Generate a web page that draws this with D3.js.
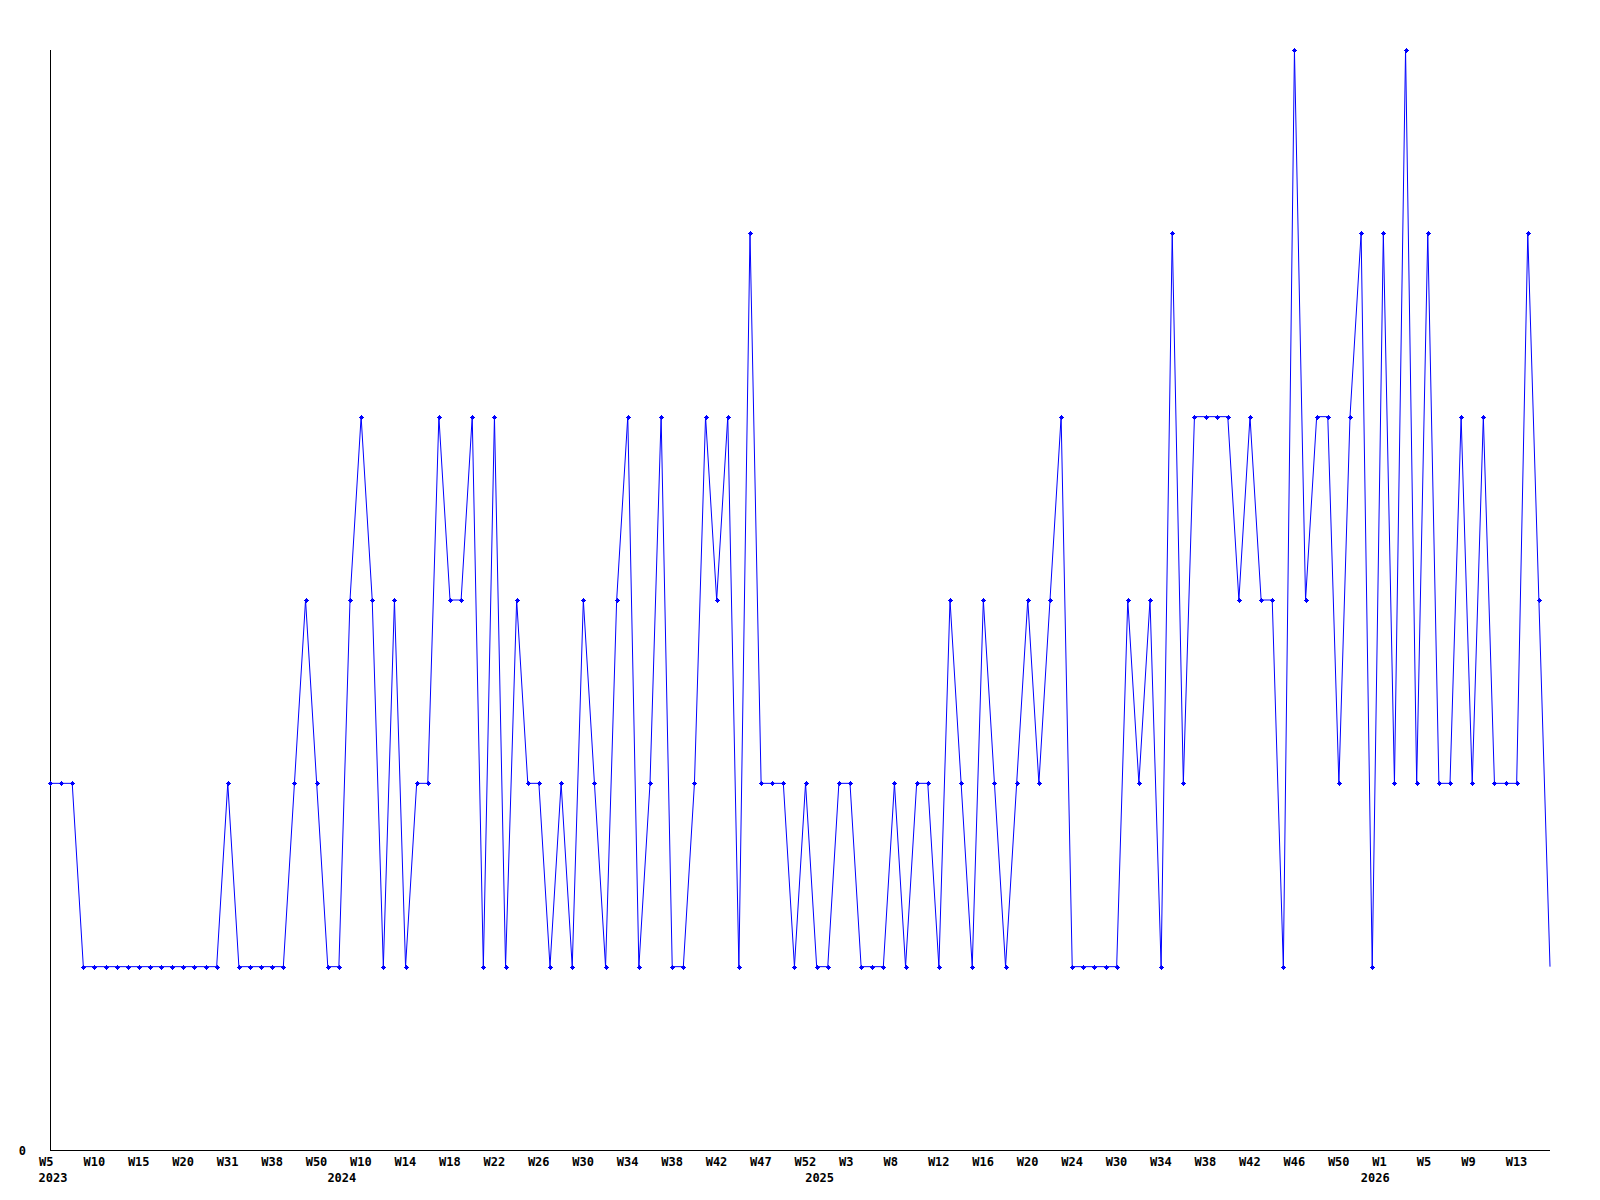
<!DOCTYPE html>
<html>
<head>
<meta charset="utf-8">
<script src="https://cdn.jsdelivr.net/npm/d3@7"></script>
<style>
  html, body { margin: 0; padding: 0; background: #fff; }
  svg { display: block; }
  .tick text, .lbl { font-family: "DejaVu Sans Mono", monospace; font-weight: bold; font-size: 12px; fill: #000; }
</style>
</head>
<body>
<svg id="chart" width="1600" height="1200"></svg>
<script>
// ---- data ----
const values = [
  2,2,2,1,1,1,1,1,1,1,
  1,1,1,1,1,1,2,1,1,1,
  1,1,2,3,2,1,1,3,4,3,
  1,3,1,2,2,4,3,3,4,1,
  4,1,3,2,2,1,2,1,3,2,
  1,3,4,1,2,4,1,1,2,4,
  3,4,1,5,2,2,2,1,2,1,
  1,2,2,1,1,1,2,1,2,2,
  1,3,2,1,3,2,1,2,3,2,
  3,4,1,1,1,1,1,3,2,3,
  1,5,2,4,4,4,4,3,4,3,
  3,1,6,3,4,4,2,4,5,1,
  5,2,6,2,5,2,2,4,2,4,
  2,2,2,5,3,1
];
const tickLabels = [
  "W5","W10","W15","W20","W31","W38","W50",
  "W10","W14","W18","W22","W26","W30","W34","W38","W42","W47","W52",
  "W3","W8","W12","W16","W20","W24","W30","W34","W38","W42","W46","W50",
  "W1","W5","W9","W13"
];
const tickEvery = 4;
const yearLabels = ["2023","2024","2025","2026"];
const yearIndex = [0, 26, 69, 119];
const yMax = 6;

// ---- layout ----
const svg = d3.select("#chart");
const mLeft = 50, mRight = 1550, mTop = 50, mBottom = 1150;

const x = d3.scaleLinear().domain([0, values.length - 1]).range([mLeft, mRight]);
const y = d3.scaleLinear().domain([0, yMax]).range([mBottom, mTop]);

// x axis
const xAxis = d3.axisBottom(x)
  .tickValues(tickLabels.map((_, k) => k * tickEvery))
  .tickSize(0)
  .tickPadding(0)
  .tickFormat((d, k) => tickLabels[k]);
const gx = svg.append("g").attr("transform", `translate(0,${mBottom})`).call(xAxis);
gx.select(".domain").attr("stroke", "#000").attr("stroke-width", 1).attr("shape-rendering", "crispEdges")
  .attr("d", `M${mLeft},0.5H${mRight}`);
gx.selectAll(".tick text")
  .attr("text-anchor", "start")
  .attr("x", -11.5)
  .attr("dy", null)
  .attr("y", 16);

// y axis
const yAxis = d3.axisLeft(y).tickValues([0]).tickSize(0).tickPadding(24).tickFormat(d3.format("d"));
const gy = svg.append("g").attr("transform", `translate(${mLeft},0)`).call(yAxis);
gy.select(".domain").attr("stroke", "#000").attr("stroke-width", 1).attr("shape-rendering", "crispEdges")
  .attr("d", `M0.5,${mTop}V${mBottom}`);
gy.selectAll(".tick text").attr("dy", "0.35em");

// year labels
svg.append("g").selectAll("text")
  .data(yearLabels)
  .join("text")
  .attr("class", "lbl")
  .attr("x", (d, k) => x(yearIndex[k]) - 11.5)
  .attr("y", mBottom + 32)
  .text(d => d);

// line
const line = d3.line().x((d, i) => x(i)).y(d => y(d));
svg.append("path")
  .datum(values)
  .attr("fill", "none")
  .attr("stroke", "#0000ff")
  .attr("stroke-width", 1)
  .attr("d", line);

// markers (small plus with filled centre); the final point has none in the original
const markerData = values.slice(0, values.length - 1);
const mk = svg.append("g").attr("fill", "#0000ff").attr("shape-rendering", "crispEdges")
  .selectAll("g")
  .data(markerData)
  .join("g")
  .attr("transform", (d, i) => `translate(${Math.round(x(i))},${Math.round(y(d))})`);
mk.append("rect").attr("x", -2.5).attr("y", -0.5).attr("width", 5).attr("height", 1);
mk.append("rect").attr("x", -0.5).attr("y", -2.5).attr("width", 1).attr("height", 5);
mk.append("rect").attr("x", -1.5).attr("y", -1.5).attr("width", 3).attr("height", 3);
</script>
</body>
</html>
